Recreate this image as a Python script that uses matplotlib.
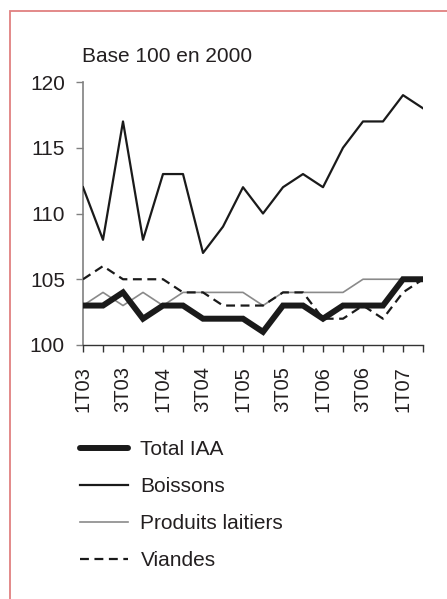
import matplotlib
matplotlib.use("Agg")
import matplotlib.pyplot as plt
from matplotlib.patches import Rectangle

plt.rcParams["font.family"] = ["Liberation Sans", "DejaVu Sans"]

# quarterly data, base 100 in 2000
quarters = ["1T03", "2T03", "3T03", "4T03", "1T04", "2T04", "3T04", "4T04",
            "1T05", "2T05", "3T05", "4T05", "1T06", "2T06", "3T06", "4T06",
            "1T07", "2T07"]
total_iaa = [103, 103, 104, 102, 103, 103, 102, 102, 102, 101, 103, 103,
             102, 103, 103, 103, 105, 105]
boissons = [112, 108, 117, 108, 113, 113, 107, 109, 112, 110, 112, 113,
            112, 115, 117, 117, 119, 118]
produits_laitiers = [103, 104, 103, 104, 103, 104, 104, 104, 104, 103, 104, 104,
                     104, 104, 105, 105, 105, 105]
viandes = [105, 106, 105, 105, 105, 104, 104, 103, 103, 103, 104, 104,
           102, 102, 103, 102, 104, 105]
y_ticks = [100, 105, 110, 115, 120]

txt = "#231f20"
x = list(range(len(quarters)))

fig = plt.figure(figsize=(4.47, 5.99), dpi=100)
ax = fig.add_axes([83 / 447, 1 - 345 / 599, 340 / 447, 263 / 599])

ax.plot(x, boissons, color="#1a1a1a", lw=1.6, label="Boissons", zorder=3)
ax.plot(x, produits_laitiers, color="#8a8a8a", lw=1.2, label="Produits laitiers", zorder=2)
ax.plot(x, viandes, color="#1a1a1a", lw=1.6, ls=(0, (4, 2.5)), label="Viandes", zorder=3)
ax.plot(x, total_iaa, color="#1a1a1a", lw=4.3, label="Total IAA",
        solid_capstyle="round", solid_joinstyle="miter", zorder=4)

ax.set_xlim(0, len(quarters) - 1)
ax.set_ylim(100, 120)
ax.set_yticks(y_ticks)
ax.set_yticklabels([str(v) for v in y_ticks], fontsize=15, color=txt)
ax.set_xticks(x)
ax.set_xticklabels([q if i % 2 == 0 else "" for i, q in enumerate(quarters)],
                   rotation=90, fontsize=14.5, color=txt)
ax.tick_params(axis="y", length=5, width=1, color="#808080", pad=8)
ax.tick_params(axis="x", length=5, width=1, color="#333333", pad=10)

for s in ["top", "right"]:
    ax.spines[s].set_visible(False)
ax.spines["left"].set_color("#808080")
ax.spines["left"].set_linewidth(1.2)
ax.spines["bottom"].set_color("#333333")
ax.spines["bottom"].set_linewidth(1.0)

fig.text(82 / 447, 1 - 57 / 599, "Base 100 en 2000", fontsize=15, color=txt,
         ha="left", va="center")

# legend below the chart, in the original order
handles, labels = ax.get_legend_handles_labels()
order = ["Total IAA", "Boissons", "Produits laitiers", "Viandes"]
hmap = dict(zip(labels, handles))
fig.legend([hmap[o] for o in order], order, loc="upper left",
           bbox_to_anchor=(80 / 447, 1 - 440 / 599), frameon=False,
           fontsize=15, labelcolor=txt, handlelength=2.3, handletextpad=0.6,
           labelspacing=0.87, borderpad=0, borderaxespad=0)

# red frame, cut at the right and bottom
fig.patches.append(Rectangle((10 / 447, -0.05), 1.2, 1 - 11 / 599 + 0.05,
                             transform=fig.transFigure, fill=False,
                             edgecolor="#e08080", lw=1.3))

fig.savefig("out.png", dpi=100)
